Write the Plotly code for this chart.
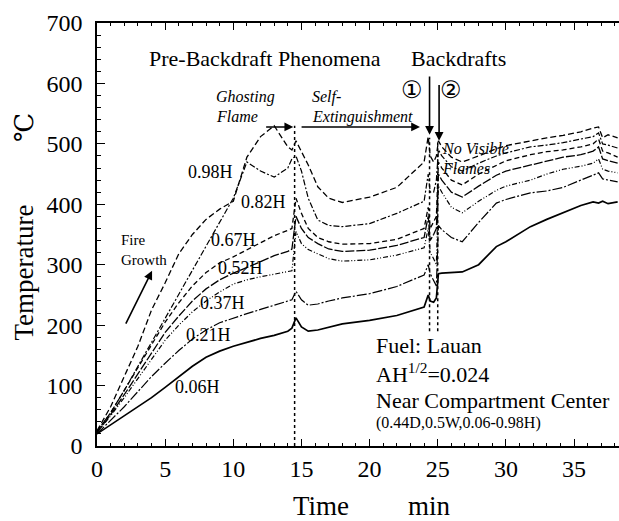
import plotly.graph_objects as go

# ---- data ----
time_min = [0, 1, 2, 3, 4, 5, 6, 7, 8, 9, 10, 11, 12, 13, 14,
            14.3, 14.6, 15, 15.5, 16.2, 17, 18, 20, 22, 24,
            24.3, 24.45, 24.7, 24.9, 25.05, 25.3,
            26, 26.8, 28, 29.3, 30, 31.8, 33, 34.2, 35.5, 36.4, 36.8, 37.1, 37.5, 38.2]

t_006 = [20, 35, 50, 65, 80, 97, 115, 132, 147, 157, 165, 172, 178, 183, 190,
         195, 212, 197, 190, 192, 196, 202, 208, 216, 230,
         250, 240, 238, 245, 285, 286,
         287, 288, 300, 330, 338, 363, 375, 386, 398, 404, 402, 405, 401, 404]
t_021 = [20, 42, 65, 90, 115, 137, 158, 177, 192, 204, 212, 219, 226, 233, 240,
         242, 256, 242, 233, 235, 240, 245, 252, 264, 283,
         300, 285, 275, 265, 365, 358,
         345, 338, 370, 402, 408, 419, 422, 428, 440, 448, 452, 442, 440, 437]
t_037 = [22, 50, 80, 112, 145, 175, 200, 222, 240, 255, 268, 275, 280, 284, 288,
         290, 355, 335, 325, 318, 310, 306, 308, 316, 328,
         360, 320, 310, 300, 430, 420,
         395, 386, 405, 423, 430, 440, 450, 458, 463, 468, 475, 458, 455, 452]
t_052 = [22, 52, 85, 120, 155, 188, 215, 240, 260, 275, 286, 295, 305, 315, 322,
         326, 380, 360, 345, 335, 326, 322, 324, 332, 345,
         380, 340, 350, 360, 450, 440,
         420, 412, 430, 448, 455, 465, 472, 478, 482, 488, 495, 475, 472, 468]
t_067 = [24, 55, 92, 130, 168, 205, 237, 265, 287, 303, 313, 325, 337, 348, 357,
         360, 410, 385, 360, 345, 338, 334, 335, 342, 360,
         395, 360, 370, 380, 470, 460,
         440, 432, 450, 465, 472, 482, 487, 490, 495, 500, 508, 488, 485, 478]
t_082 = [25, 55, 92, 132, 172, 210, 250, 290, 330, 370, 410, 470, 455, 445, 460,
         475, 480, 455, 410, 374, 365, 363, 368, 385, 405,
         450, 420, 420, 440, 490, 480,
         462, 455, 468, 480, 485, 495, 498, 502, 508, 512, 518, 500, 498, 493]
t_098 = [25, 65, 115, 165, 225, 270, 318, 350, 375, 392, 405, 478, 512, 530, 495,
         490, 505, 488, 465, 429, 410, 403, 412, 428, 470,
         512, 480, 470, 480, 505, 495,
         478, 470, 480, 492, 497, 505, 510, 514, 520, 526, 528, 510, 515, 510]

series_names = ["0.06H", "0.21H", "0.37H", "0.52H", "0.67H", "0.82H", "0.98H"]
series_vals = [t_006, t_021, t_037, t_052, t_067, t_082, t_098]

x_ticks = [0, 5, 10, 15, 20, 25, 30, 35]
y_ticks = [0, 100, 200, 300, 400, 500, 600, 700]

# ---- styling ----
dashes = ["solid", "10px,2px,2px,2px", "5px,2px,1px,2px,1px,2px", "9px,2px",
          "5px,3px", "6px,2px,2px,2px", "6px,3px"]
widths = [1.7, 1.2, 1.2, 1.3, 1.3, 1.2, 1.3]
SERIF = "Liberation Serif"

fig = go.Figure()
for name, vals, d, w in zip(series_names, series_vals, dashes, widths):
    fig.add_trace(go.Scatter(x=time_min, y=vals, mode="lines", name=name,
                             line=dict(color="black", width=w, dash=d),
                             showlegend=False, hoverinfo="skip"))

# vertical dotted event lines
for x0, y0, y1 in [(14.5, 0, 530), (24.4, 190, 510), (25.0, 190, 505)]:
    fig.add_shape(type="line", x0=x0, x1=x0, y0=y0, y1=y1, xref="x", yref="y",
                  line=dict(color="black", width=1.5, dash="dot"))

ann = []
def txt(x, y, s, size, italic=False, xanchor="center", family=SERIF):
    f = dict(family=family, size=size, color="black")
    if italic:
        f["style"] = "italic"
    ann.append(dict(x=x, y=y, xref="x", yref="y", text=s, showarrow=False,
                    xanchor=xanchor, yanchor="middle", font=f))

# series labels
label_pos = {"0.98H": (8.3, 454), "0.82H": (12.2, 404), "0.67H": (10.0, 341),
             "0.52H": (10.5, 295), "0.37H": (9.2, 237), "0.21H": (8.2, 184),
             "0.06H": (7.4, 98)}
for k, (x, y) in label_pos.items():
    txt(x, y, k, 18)

txt(12.3, 642, "Pre-Backdraft Phenomena", 22)
txt(26.5, 642, "Backdrafts", 22)
txt(8.6, 577, "Ghosting", 16, italic=True, xanchor="left")
txt(8.6, 545, "Flame", 16, italic=True, xanchor="left")
txt(15.6, 577, "Self-", 16, italic=True, xanchor="left")
txt(15.6, 545, "Extinguishment", 16, italic=True, xanchor="left")
txt(23.1, 589, "①", 24, family="DejaVu Sans")
txt(26.0, 589, "②", 24, family="DejaVu Sans")
txt(25.2, 493, "No Visible", 16, italic=True, xanchor="left")
txt(25.2, 460, "Flames", 16, italic=True, xanchor="left")
txt(1.6, 341, "Fire", 15, xanchor="left")
txt(1.6, 308, "Growth", 15, xanchor="left")
txt(20.3, 167, "Fuel: Lauan", 22, xanchor="left")
txt(20.3, 121, "AH<sup>1/2</sup>=0.024", 22, xanchor="left")
txt(20.3, 76, "Near Compartment Center", 22, xanchor="left")
txt(20.3, 38, "(0.44D,0.5W,0.06-0.98H)", 16, xanchor="left")

# arrows
def arrow(x0, y0, x1, y1):
    ann.append(dict(x=x1, y=y1, ax=x0, ay=y0, xref="x", yref="y", axref="x", ayref="y",
                    text="", showarrow=True, arrowhead=2, arrowsize=1.1,
                    arrowwidth=1.6, arrowcolor="black"))

arrow(12.3, 528, 14.4, 528)
arrow(14.9, 528, 23.7, 528)
arrow(24.4, 614, 24.4, 515)
arrow(25.1, 600, 25.1, 505)
arrow(2.06, 200, 4.04, 290)

# axis titles as annotations
ann.append(dict(x=-0.14, y=0.41, xref="paper", yref="paper", text="Temperature",
                showarrow=False, textangle=-90, xanchor="center", yanchor="middle",
                font=dict(family=SERIF, size=27, color="black")))
ann.append(dict(x=-0.14, y=0.754, xref="paper", yref="paper", text="℃",
                showarrow=False, textangle=-90, xanchor="center", yanchor="middle",
                font=dict(family="DejaVu Serif", size=26, color="black")))
ann.append(dict(x=16.4, y=-0.142, xref="x", yref="paper", text="Time",
                showarrow=False, xanchor="center", yanchor="middle",
                font=dict(family=SERIF, size=27, color="black")))
ann.append(dict(x=24.4, y=-0.142, xref="x", yref="paper", text="min",
                showarrow=False, xanchor="center", yanchor="middle",
                font=dict(family=SERIF, size=27, color="black")))

fig.update_layout(
    width=619, height=521,
    margin=dict(l=97, r=0, t=23, b=75),
    paper_bgcolor="white", plot_bgcolor="white",
    annotations=ann,
    font=dict(family=SERIF, color="black"),
)
fig.update_xaxes(range=[0, 38.3], tickvals=x_ticks, ticktext=[str(v) for v in x_ticks],
                 ticks="inside", ticklen=7, tickwidth=1.2, tickcolor="black",
                 showline=True, linecolor="black", linewidth=1.5, mirror="allticks",
                 showgrid=False, zeroline=False,
                 tickfont=dict(family=SERIF, size=24, color="black"),
                 minor=dict(dtick=1, ticks="inside", ticklen=3, tickcolor="black", showgrid=False))
fig.update_yaxes(range=[0, 700], tickvals=y_ticks, ticktext=[str(v) for v in y_ticks],
                 ticks="inside", ticklen=8, tickwidth=1.2, tickcolor="black",
                 showline=True, linecolor="black", linewidth=1.5, mirror=False,
                 showgrid=False, zeroline=False, ticklabelstandoff=8,
                 tickfont=dict(family=SERIF, size=24, color="black"),
                 minor=dict(dtick=20, ticks="inside", ticklen=4, tickcolor="black", showgrid=False))

fig.write_html("out.html")
